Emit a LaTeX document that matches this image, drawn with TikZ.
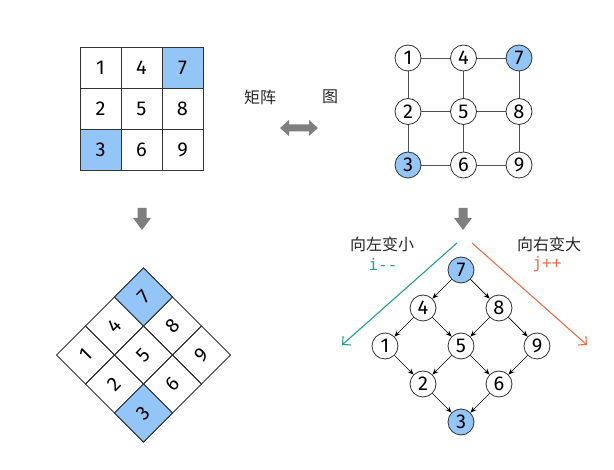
\documentclass[tikz,border=0pt]{standalone}
\usepackage{fontspec}
\setmainfont{Fira Sans}
\newfontfamily\cjk{Noto Sans CJK SC}
\newfontfamily\monof{DejaVu Sans Mono}
\usetikzlibrary{arrows.meta}
\definecolor{cellblue}{HTML}{93C5F8}
\definecolor{tealc}{HTML}{2A9D8F}
\definecolor{orangec}{HTML}{E76F51}
\definecolor{linec}{HTML}{333333}
\definecolor{blockc}{HTML}{7F7F7F}
\begin{document}
\begin{tikzpicture}[x=1pt,y=-1pt,
  cell/.style={draw=linec,line width=0.9pt,minimum size=41pt,inner sep=0pt,font=\fontsize{20}{20}\selectfont},
  bluecell/.style={cell,fill=cellblue},
  gnode/.style={circle,draw=linec,line width=0.8pt,fill=white,minimum size=26pt,inner sep=0pt,font=\fontsize{20}{20}\selectfont},
  bluenode/.style={gnode,fill=cellblue},
  gedge/.style={draw=linec!85,line width=0.9pt},
  dedge/.style={draw=black,line width=0.7pt,-{Stealth[length=6pt,width=5pt]}},
  cjklabel/.style={font=\cjk\fontsize{16}{16}\selectfont,text=black!85},
  codelabel/.style={font=\monof\fontsize{16}{16}\selectfont},
  block/.style={fill=blockc},
  dirarrow/.style={line width=1.1pt,-{Straight Barb[length=6pt,width=12pt,line width=1.1pt]}}
]
\useasboundingbox (0,0) rectangle (614,470);

% ---- matrix grid
\foreach \n/\c/\r in {1/0/0,2/0/1,3/0/2,4/1/0,5/1/1,6/1/2,7/2/0,8/2/1,9/2/2}{
  \node[cell] (g\n) at ({100.5+41*\c},{67.5+41*\r}) {\n};
}
\node[bluecell] at (g3) {3};
\node[bluecell] at (g7) {7};

% ---- rotated grid (diamond)
\begin{scope}[shift={(143.5,355)},rotate=45,transform shape]
\foreach \n/\c/\r in {1/0/0,2/0/1,3/0/2,4/1/0,5/1/1,6/1/2,7/2/0,8/2/1,9/2/2}{
  \node[cell] (d\n) at ({41*(\c-1)},{41*(\r-1)}) {\n};
}
\node[bluecell] at (d3) {3};
\node[bluecell] at (d7) {7};
\end{scope}

% ---- labels and double arrow
\node[cjklabel] (lmat) at (260,97) {矩阵};
\node[cjklabel] (lgraph) at (330,97) {图};
\fill[block] (280,128) -- (289,120) -- (289,124.5) -- (309,124.5) -- (309,120) -- (318,128)
  -- (309,136) -- (309,131.5) -- (289,131.5) -- (289,136) -- cycle;

% ---- grid graph
\foreach \n/\c/\r in {1/0/0,2/0/1,3/0/2,4/1/0,5/1/1,6/1/2,7/2/0,8/2/1,9/2/2}{
  \coordinate (p\n) at ({408+55.5*\c},{58+53.5*\r});
}
\draw[gedge] (p1)--(p4) (p4)--(p7) (p2)--(p5) (p5)--(p8) (p3)--(p6) (p6)--(p9)
  (p1)--(p2) (p2)--(p3) (p4)--(p5) (p5)--(p6) (p7)--(p8) (p8)--(p9);
\foreach \n in {1,2,4,5,6,8,9}{ \node[gnode] (m\n) at (p\n) {\n}; }
\node[bluenode] (m3) at (p3) {3};
\node[bluenode] (m7) at (p7) {7};

% ---- down block arrows
\fill[block] (137.5,208) -- (146.5,208) -- (146.5,218) -- (151,218) -- (142,230) -- (133,218) -- (137.5,218) -- cycle;
\fill[block] (458.5,208) -- (467.5,208) -- (467.5,218) -- (472,218) -- (463,230) -- (454,218) -- (458.5,218) -- cycle;

% ---- direction arrows
\coordinate (ls) at (457,243);
\coordinate (le) at (342,345);
\coordinate (rs) at (472,243);
\coordinate (re) at (587,345);
\draw[dirarrow,tealc] (ls) -- (le);
\draw[dirarrow,orangec] (rs) -- (re);
\node[cjklabel] (lleft) at (382,244) {向左变小};
\node[codelabel,text=tealc] (cleft) at (383,264) {i--};
\node[cjklabel] (lright) at (549,244) {向右变大};
\node[codelabel,text=orangec] (cright) at (547,264) {j++};

% ---- directed graph
\node[bluenode] (t7) at (461,270) {7};
\node[gnode] (t4) at (423,308) {4};
\node[gnode] (t8) at (499,308) {8};
\node[gnode] (t1) at (385,346) {1};
\node[gnode] (t5) at (461,346) {5};
\node[gnode] (t9) at (537,346) {9};
\node[gnode] (t2) at (423,384) {2};
\node[gnode] (t6) at (499,384) {6};
\node[bluenode] (t3) at (461,422) {3};
\draw[dedge] (t7)--(t4);
\draw[dedge] (t7)--(t8);
\draw[dedge] (t4)--(t1);
\draw[dedge] (t4)--(t5);
\draw[dedge] (t8)--(t5);
\draw[dedge] (t8)--(t9);
\draw[dedge] (t1)--(t2);
\draw[dedge] (t5)--(t2);
\draw[dedge] (t5)--(t6);
\draw[dedge] (t9)--(t6);
\draw[dedge] (t2)--(t3);
\draw[dedge] (t6)--(t3);
\end{tikzpicture}
\end{document}
